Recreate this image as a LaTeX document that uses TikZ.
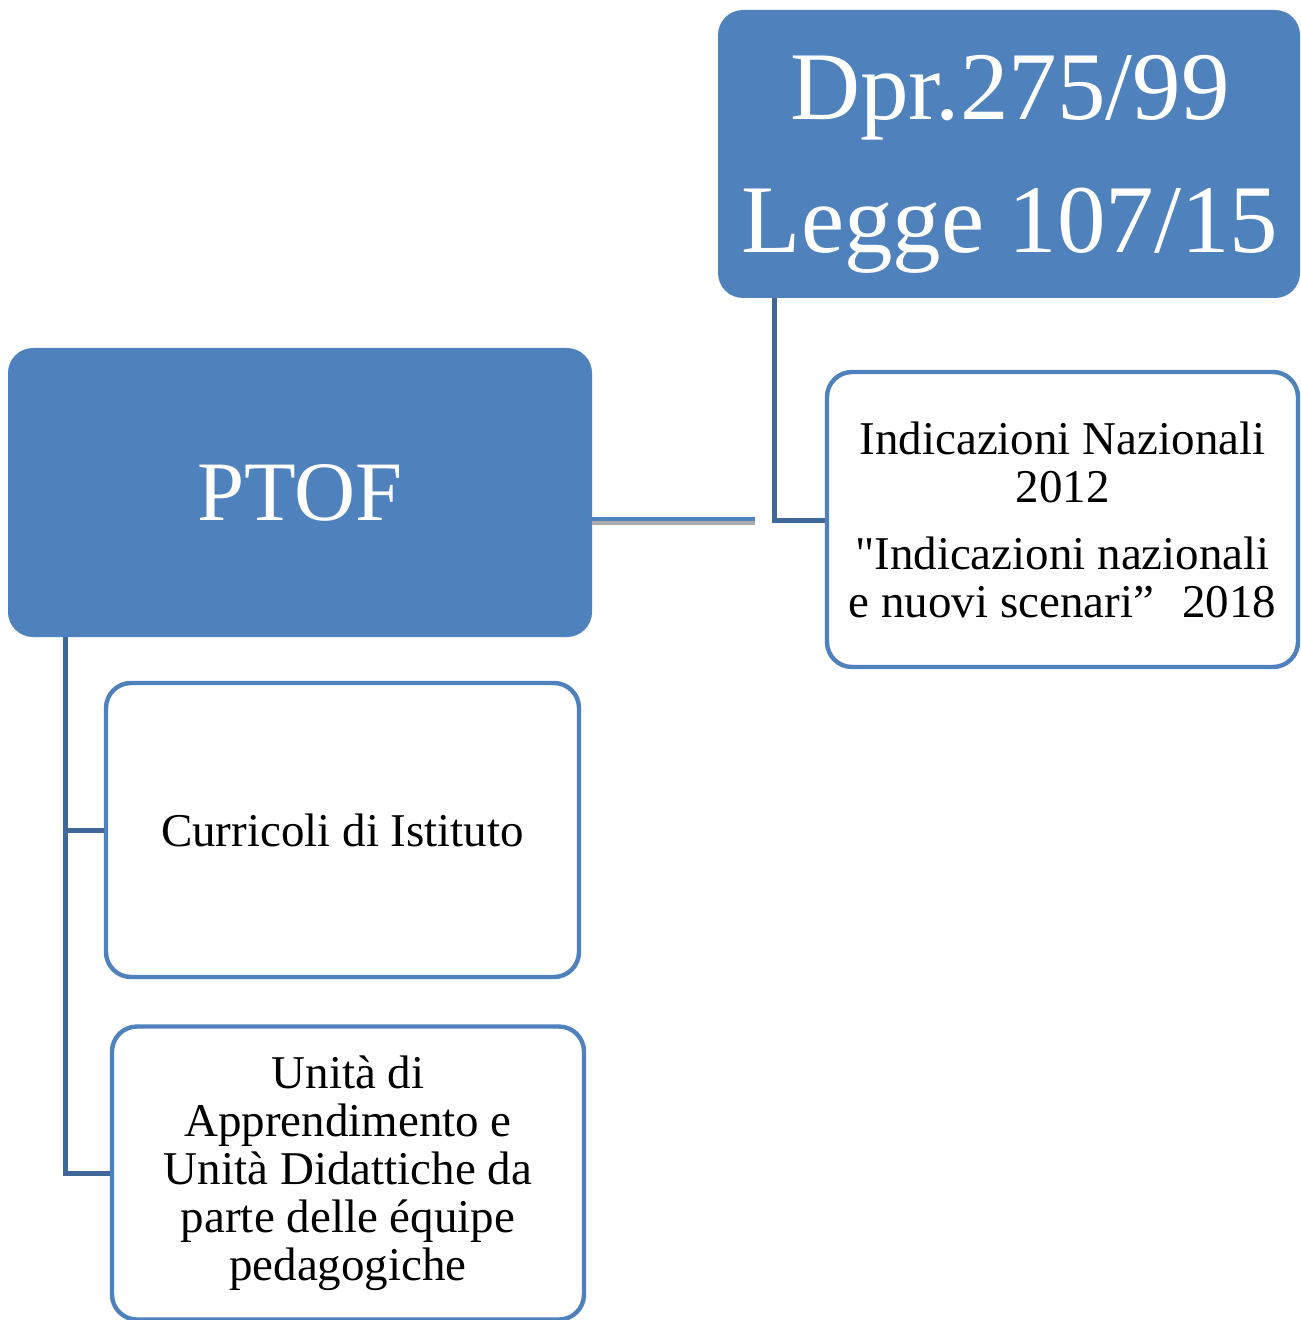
\documentclass[tikz,border=0pt]{standalone}
\usepackage{fontspec}
\setmainfont{Liberation Serif}
\newfontfamily\straightq{Liberation Serif}[Ligatures=TeXOff]
\definecolor{boxblue}{HTML}{4F81BD}
\definecolor{linkblue}{HTML}{3F6899}
\begin{document}
\begin{tikzpicture}[x=0.5pt,y=-0.5pt,
  filled/.style={rectangle,rounded corners=12.5pt,fill=boxblue,draw=none,text=white,align=center,inner sep=0pt},
  outlined/.style={rectangle,rounded corners=12.5pt,fill=white,draw=boxblue,line width=2.2pt,text=black,align=center,inner sep=0pt},
  conn/.style={draw=linkblue,line width=2.5pt},
  smalltext/.style={font=\fontsize{23.5pt}{24pt}\selectfont}]
\useasboundingbox (0,0) rectangle (1300,1320);
\node[filled,minimum width=291pt,minimum height=144pt] (dpr) at (1009,154) {};
\node[text=white,align=center,inner sep=0pt,font=\fontsize{48.5pt}{66.5pt}\selectfont] (dprtext) at (1010,164) {Dpr.275/99\\Legge 107/15};
\node[filled,minimum width=292pt,minimum height=144.5pt,font=\fontsize{42.3pt}{50pt}\selectfont] (ptof) at (300,492.5) {PTOF};
\node[outlined,minimum width=235.5pt,minimum height=147.5pt,smalltext] (ind) at (1062.5,519.5) {Indicazioni Nazionali\\2012\\[9.5pt]{\straightq"}Indicazioni nazionali\\e nuovi scenari”\hspace{0.6em}2018};
\node[outlined,minimum width=236.5pt,minimum height=147pt,smalltext] (cur) at (342.5,830) {Curricoli di Istituto};
\node[outlined,minimum width=236pt,minimum height=146.5pt,smalltext] (uni) at (348,1173) {Unità di\\Apprendimento e\\Unità Didattiche da\\parte delle équipe\\pedagogiche};
% connectors
\coordinate (j1) at (774,520);
\draw[conn] (dpr.south -| j1) -- (j1) -- (ind.west |- j1);
\coordinate (pe) at (755,519);
\coordinate (ps) at (755,523);
\draw[draw=gray!65,line width=2pt] (ptof.east |- ps) -- (ps);
\draw[draw=boxblue,line width=2pt] (ptof.east |- pe) -- (pe);
\coordinate (b1) at (65,830);
\coordinate (b2) at (65,1173);
\draw[conn] (ptof.south -| b1) -- (b2) -- (uni.west |- b2);
\draw[conn] (b1) -- (cur.west |- b1);
\end{tikzpicture}
\end{document}
